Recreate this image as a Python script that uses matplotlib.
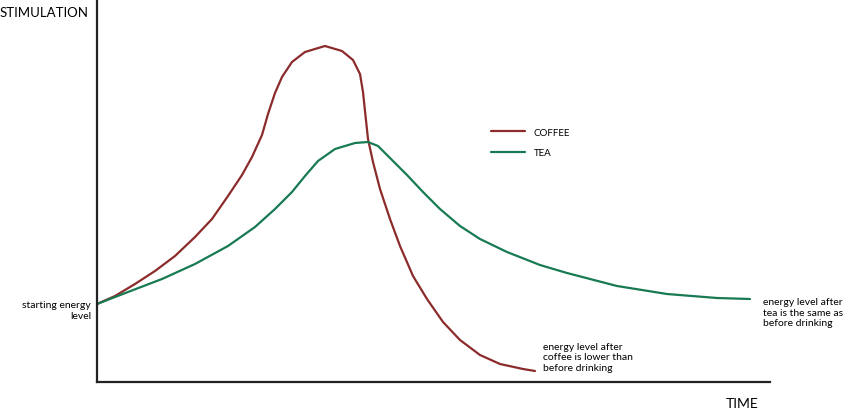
import matplotlib.pyplot as plt

plt.rcParams['font.family'] = ['Lato', 'DejaVu Sans']

# time / stimulation (arbitrary units, origin at the axes corner)
coffee_t = [0, 18, 38, 58, 78, 98, 115, 131, 145, 155, 165, 171, 178, 185, 195,
            208, 228, 245, 256, 263, 266, 268, 271, 276, 283, 293, 303, 316, 330,
            346, 363, 383, 403, 426, 438]
coffee_s = [78, 86, 98, 111, 126, 145, 163, 186, 207, 225, 247, 268, 289, 305, 320,
            330, 336, 331, 322, 308, 290, 271, 243, 220, 193, 163, 136, 106, 83,
            60, 42, 27, 18, 13, 11]

tea_t = [0, 31, 65, 98, 131, 158, 178, 195, 208, 221, 238, 258, 271, 281, 293,
         310, 326, 343, 363, 383, 410, 443, 470, 520, 570, 620, 653]
tea_s = [78, 90, 103, 118, 136, 155, 173, 190, 206, 221, 233, 239, 240, 236, 224,
         207, 190, 173, 156, 143, 130, 117, 109, 96, 88, 84, 83]

coffee_col = '#8c2b2b'
tea_col = '#177a52'

W, H = 850, 414
fig = plt.figure(figsize=(W / 100, H / 100), dpi=100)
ax = fig.add_axes([97 / W, (H - 383) / H, (770 - 97) / W, 383 / H])

ax.plot(coffee_t, coffee_s, color=coffee_col, lw=1.6, label='COFFEE',
        solid_joinstyle='round', solid_capstyle='round')
ax.plot(tea_t, tea_s, color=tea_col, lw=1.6, label='TEA',
        solid_joinstyle='round', solid_capstyle='round')

ax.set_xlim(0, 673)
ax.set_ylim(0, 383)
ax.set_xticks([])
ax.set_yticks([])
for side in ['top', 'right']:
    ax.spines[side].set_visible(False)
for side in ['left', 'bottom']:
    ax.spines[side].set_linewidth(1.6)
    ax.spines[side].set_color('#222222')
ax.set_facecolor('none')

ax.legend(loc='upper left', bbox_to_anchor=(482 / W, 1 - 120 / H),
          bbox_transform=fig.transFigure, frameon=False, fontsize=7,
          handlelength=3.5, handletextpad=0.9, labelspacing=1.15)

fig.text(0, 1 - 13 / H, 'STIMULATION', fontsize=9.5, va='center', ha='left')
fig.text(758 / W, 1 - 404 / H, 'TIME', fontsize=10, va='center', ha='right')
fig.text(91 / W, 1 - 311 / H, 'starting energy\nlevel', fontsize=7.5, ha='right',
         va='center', multialignment='right', linespacing=1.25)
fig.text(543 / W, 1 - 358 / H, 'energy level after\ncoffee is lower than\nbefore drinking',
         fontsize=7.5, ha='left', va='center', linespacing=1.25)
fig.text(763 / W, 1 - 313 / H, 'energy level after\ntea is the same as\nbefore drinking',
         fontsize=7.5, ha='left', va='center', linespacing=1.25)

fig.savefig('out.png', dpi=100)
